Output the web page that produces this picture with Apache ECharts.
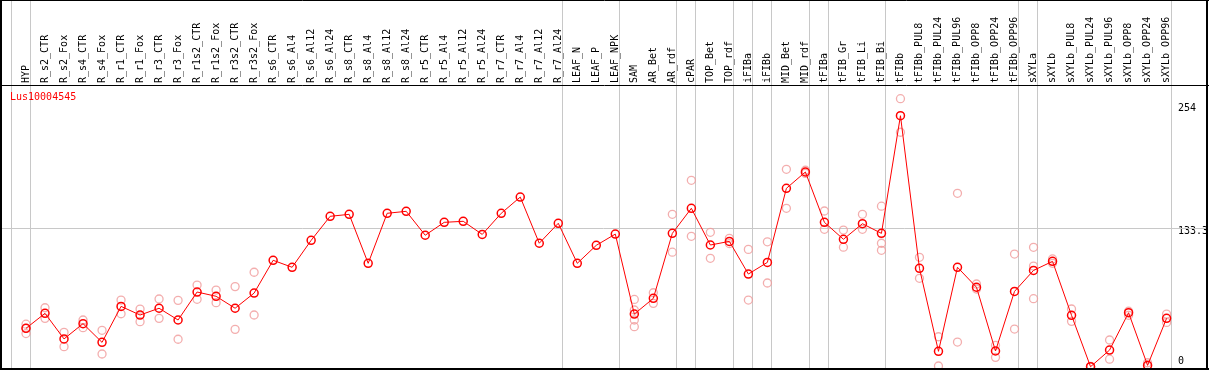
<!DOCTYPE html>
<html>
<head>
<meta charset="utf-8">
<script src="https://cdn.jsdelivr.net/npm/echarts@6/dist/echarts.min.js"></script>
<style>
html,body{margin:0;padding:0;background:#fff;}
#chart{width:1209px;height:370px;}
</style>
</head>
<body>
<div id="chart"></div>
<script>
var categories = ["HYP","R_s2_CTR","R_s2_Fox","R_s4_CTR","R_s4_Fox","R_r1_CTR","R_r1_Fox","R_r3_CTR","R_r3_Fox","R_r1s2_CTR","R_r1s2_Fox","R_r3s2_CTR","R_r3s2_Fox","R_s6_CTR","R_s6_Al4","R_s6_Al12","R_s6_Al24","R_s8_CTR","R_s8_Al4","R_s8_Al12","R_s8_Al24","R_r5_CTR","R_r5_Al4","R_r5_Al12","R_r5_Al24","R_r7_CTR","R_r7_Al4","R_r7_Al12","R_r7_Al24","LEAF_N","LEAF_P","LEAF_NPK","SAM","AR_Bet","AR_rdf","cPAR","TOP_Bet","TOP_rdf","iFIBa","iFIBb","MID_Bet","MID_rdf","tFIBa","tFIB_Gr","tFIB_Li","tFIB_Bi","tFIBb","tFIBb_PUL8","tFIBb_PUL24","tFIBb_PUL96","tFIBb_OPP8","tFIBb_OPP24","tFIBb_OPP96","sXYLa","sXYLb","sXYLb_PUL8","sXYLb_PUL24","sXYLb_PUL96","sXYLb_OPP8","sXYLb_OPP24","sXYLb_OPP96"];

var meanValues = [37.0,51.4,26.8,41.5,23.5,58.1,49.8,56.3,45.0,71.9,67.8,56.3,70.9,102.4,95.7,121.6,144.7,146.6,99.5,147.6,149.5,126.5,138.9,139.9,127.3,147.6,163.2,118.8,138.0,99.5,116.8,127.6,50.7,65.8,128.3,152.4,117.1,120.6,89.2,100.4,171.6,187.3,138.9,122.6,137.6,128.3,241.4,94.7,14.9,95.7,76.5,15.2,72.5,92.7,101.4,49.5,0.1,16.1,52.0,1.4,46.6];

var replicateValues = [
  [41,37,32],[56.8,46.6],[33.2,19.4],[45.0,37.6],[35.1,12.3],[64.2,51.0],[55.5,43.4],[65.2,46.6],[63.9,26.5],[78.6,64.9],[73.8,61.7],[77.1,36.0],[90.9,49.8],
  [],[],[],[],[],[],[],[],[],[],[],[],[],[],[],[],[],[],[],
  [64.8,54.6,45.0,38.6],[71.2,61.0],[146.6,110.2],[179.3,125.5],[129.3,104.3],[123.5,118.5],[112.9,64.2],[120.2,80.6],[189.9,152.4],[189,186],[149.8,132.2],[131.5,115.0],[146.6,132.2],[154.4,118.8,112.0],[257.8,225.5],
  [105.3,85.1],[28.9,0.8],[166.8,23.8],[79.6,74.8],[20.7,9.1],[108.4,36.3],[114.9,96.9,65.5],[103.7,99.5],[55.6,43.7],[0.5,0],[25.8,7.3],[53.4,49.5],[3.9,0.5],[50.7,42.7]
];

var groupBoundaries = [-1,0,28,31,34,35,37,38,39,41,42,45,52,53,60];
var yTickValues = [0,133.3,254];
var yTickLabels = ["0","133.3","254"];
var gridLineValue = 133.3;
var geneName = "Lus10004545";

var FONT = "DejaVu Sans Mono";

var meanData = meanValues.map(function(v,i){return [i,v];});
var repData = [];
replicateValues.forEach(function(arr,i){arr.forEach(function(v){repData.push([i,v]);});});

var markData = groupBoundaries.map(function(k){return {xAxis:k+0.22};});
markData.push({yAxis:gridLineValue});

var chart = echarts.init(document.getElementById('chart'), null, {renderer:'canvas'});
chart.setOption({
  animation:false,
  backgroundColor:'#fff',
  title:{text:geneName, left:10, top:92, padding:0,
    textStyle:{color:'#ff0000', fontSize:10, fontWeight:'normal', fontFamily:FONT}},
  grid:{left:1, right:3, top:1, bottom:1, containLabel:false, outerBoundsMode:'none'},
  xAxis:{
    type:'value', min:-1.315, max:62.073, position:'top', offset:-84,
    axisLine:{show:false}, axisTick:{show:false}, splitLine:{show:false},
    axisLabel:{
      customValues: categories.map(function(c,i){return i;}),
      formatter:function(v){return categories[Math.round(v)] || '';},
      rotate:90, margin:2, color:'#000', fontSize:10, fontFamily:FONT
    }
  },
  yAxis:{
    type:'value', min:-2.1, max:351.7, position:'right',
    axisLine:{show:false}, axisTick:{show:false}, splitLine:{show:false},
    axisLabel:{
      customValues: yTickValues,
      inside:true, margin:28, align:'left', color:'#000', fontSize:10, fontFamily:FONT,
      formatter:function(v){
        var idx = 0;
        for (var j=0;j<yTickValues.length;j++){ if (Math.abs(yTickValues[j]-v)<0.01) idx=j; }
        var key = idx===0 ? 'b' : (idx===1 ? 'm' : 't');
        return '{'+key+'|'+yTickLabels[idx]+'}';
      },
      rich:{
        t:{padding:[11,0,0,0], fontSize:10, fontFamily:FONT, lineHeight:10, color:'#000'},
        m:{padding:[7,0,0,0], fontSize:10, fontFamily:FONT, lineHeight:10, color:'#000'},
        b:{padding:[0,0,11,0], fontSize:10, fontFamily:FONT, lineHeight:10, color:'#000'}
      }
    }
  },
  series:[
    {
      type:'scatter', data:repData, symbol:'circle', symbolSize:8,
      itemStyle:{color:'rgba(0,0,0,0)', borderColor:'#f09a9a', borderWidth:1.3},
      silent:true, z:2,
      markLine:{silent:true, symbol:['none','none'], label:{show:false},
        lineStyle:{color:'#c8c8c8', width:1, type:'solid'}, data:markData, z:1}
    },
    {
      type:'line', data:meanData, symbol:'circle', symbolSize:8, showAllSymbol:true,
      lineStyle:{color:'#ff0000', width:1},
      itemStyle:{color:'rgba(0,0,0,0)', borderColor:'#ff0000', borderWidth:1.5},
      silent:true, z:3
    }
  ],
  graphic:[
    {type:'line', shape:{x1:1, y1:0, x2:1, y2:370}, style:{stroke:'#000', lineWidth:2}, silent:true, z:100},
    {type:'line', shape:{x1:1207, y1:0, x2:1207, y2:370}, style:{stroke:'#000', lineWidth:2}, silent:true, z:100},
    {type:'line', shape:{x1:0, y1:0.5, x2:1209, y2:0.5}, style:{stroke:'#000', lineWidth:1}, silent:true, z:100},
    {type:'line', shape:{x1:0, y1:369, x2:1209, y2:369}, style:{stroke:'#000', lineWidth:2}, silent:true, z:100},
    {type:'line', shape:{x1:0, y1:85.5, x2:1209, y2:85.5}, style:{stroke:'#000', lineWidth:1}, silent:true, z:100}
  ]
});
</script>
</body>
</html>
